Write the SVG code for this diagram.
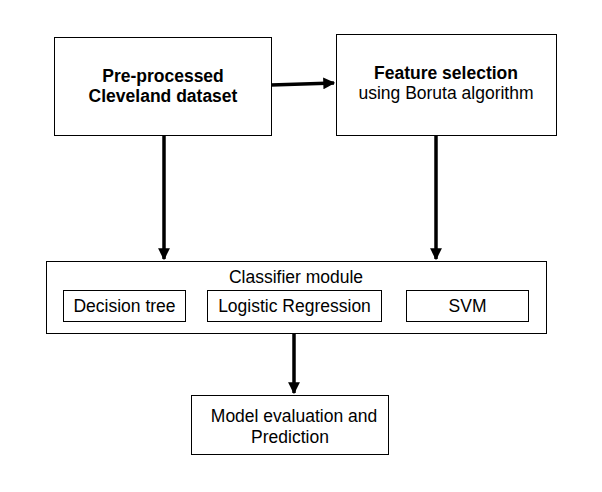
<svg xmlns="http://www.w3.org/2000/svg" width="602" height="492" viewBox="0 0 602 492">
<style>
.box{fill:#fff;stroke:#000;stroke-width:1}
.t{font-family:"Liberation Sans",Arial,sans-serif;font-size:17.5px;fill:#000;text-anchor:middle}
.b{font-weight:bold}
.c{stroke:#000;stroke-width:3.5;fill:none}
</style>
<defs>
<marker id="ah" viewBox="0 0 10 10" refX="9" refY="5" markerWidth="3.4" markerHeight="3.4" orient="auto" markerUnits="strokeWidth">
<path d="M0,0 L10,5 L0,10 z" fill="#000"/>
</marker>
</defs>
<rect width="602" height="492" fill="#fff"/>
<g id="connectors">
<path class="c" d="M271,85 L334,83" marker-end="url(#ah)"/>
<path class="c" d="M164,135 L164,259" marker-end="url(#ah)"/>
<path class="c" d="M436,135 L436,259" marker-end="url(#ah)"/>
<path class="c" d="M294,333 L294,393" marker-end="url(#ah)"/>
</g>
<g id="preprocessed">
<rect class="box" x="54.5" y="37.5" width="217" height="98"/>
<text class="t b" x="163" y="82">Pre-processed</text>
<text class="t b" x="163" y="102">Cleveland dataset</text>
</g>
<g id="feature-selection">
<rect class="box" x="336.5" y="34.5" width="220" height="101"/>
<text class="t b" x="446" y="79">Feature selection</text>
<text class="t" x="446" y="99">using Boruta algorithm</text>
</g>
<g id="classifier-module">
<rect class="box" x="46.5" y="261.5" width="500" height="72"/>
<text class="t" x="296" y="283">Classifier module</text>
</g>
<g id="decision-tree">
<rect class="box" x="63.5" y="290.5" width="122" height="31"/>
<text class="t" x="124.5" y="312">Decision tree</text>
</g>
<g id="logistic-regression">
<rect class="box" x="207.5" y="290.5" width="174" height="31"/>
<text class="t" x="294.5" y="312">Logistic Regression</text>
</g>
<g id="svm">
<rect class="box" x="406.5" y="290.5" width="122" height="31"/>
<text class="t" x="467.5" y="312">SVM</text>
</g>
<g id="model-evaluation">
<rect class="box" x="191.5" y="395.5" width="197" height="59"/>
<text class="t" x="294" y="422">Model evaluation and</text>
<text class="t" x="290" y="443">Prediction</text>
</g>
</svg>
